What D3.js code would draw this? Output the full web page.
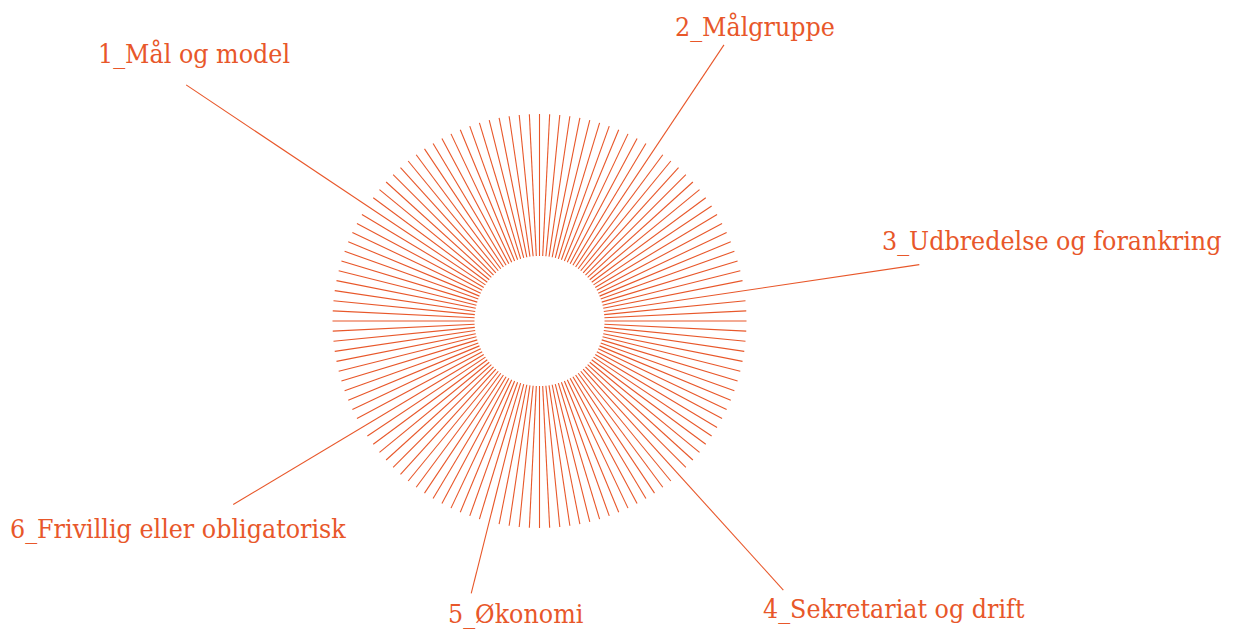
<!DOCTYPE html>
<html>
<head>
<meta charset="utf-8">
<script src="https://cdn.jsdelivr.net/npm/d3@7"></script>
<style>
  body { margin: 0; background: #fff; }
  text { font-family: "DejaVu Serif Condensed", "DejaVu Serif", serif; }
</style>
</head>
<body>
<svg id="chart"></svg>
<script>
// number of spokes in the ring
const spokeCount = 128;

// labels and the spoke each leader line sits on
const labels = ['1_Mål og model', '2_Målgruppe', '3_Udbredelse og forankring',
  '4_Sekretariat og drift', '5_Økonomi', '6_Frivillig eller obligatorisk'];
const labelSpoke = [108, 12, 29, 49, 69, 85];
// leader length relative to a normal spoke (spoke = 1)
const leaderLength = [2.053, 1.604, 1.855, 1.754, 1.357, 1.725];

let w = 1234;
let h = 635;
let cx = 539.5, cy = 321;
let inner = 65;
let color = '#e8572a';

let svg = d3.select('#chart')
  .attr('width', w)
  .attr('height', h);

// angle of each spoke, clockwise from the top
let aScale = d3.scaleLinear()
  .domain([0, spokeCount])
  .range([0, 2 * Math.PI]);

// radius: 1 = outer edge of the ring
let rScale = d3.scaleLinear()
  .domain([0, 1])
  .range([0, 207]);

let g = svg.append('g')
  .attr('transform', `translate(${cx},${cy})`);

let spokes = d3.range(spokeCount).map((i) => {
  let k = labelSpoke.indexOf(i);
  return { i: i, len: k >= 0 ? leaderLength[k] : 1 };
});

g.selectAll('line.spoke')
  .data(spokes)
  .enter()
  .append('line')
  .attr('class', 'spoke')
  .attr('x1', (d) => inner * Math.sin(aScale(d.i)))
  .attr('y1', (d) => -inner * Math.cos(aScale(d.i)))
  .attr('x2', (d) => rScale(d.len) * Math.sin(aScale(d.i)))
  .attr('y2', (d) => -rScale(d.len) * Math.cos(aScale(d.i)))
  .attr('stroke', color)
  .attr('stroke-width', 1.1);

// label positions (left edge, baseline) next to the end of each leader
const labelPos = [[98, 63], [675, 36], [882, 250], [763, 618], [448, 623], [10, 538]];

svg.selectAll('text.label')
  .data(labels)
  .enter()
  .append('text')
  .attr('class', 'label')
  .attr('x', (d, i) => labelPos[i][0])
  .attr('y', (d, i) => labelPos[i][1])
  .attr('fill', color)
  .attr('font-size', '26.5px')
  .text((d) => d);
</script>
</body>
</html>
